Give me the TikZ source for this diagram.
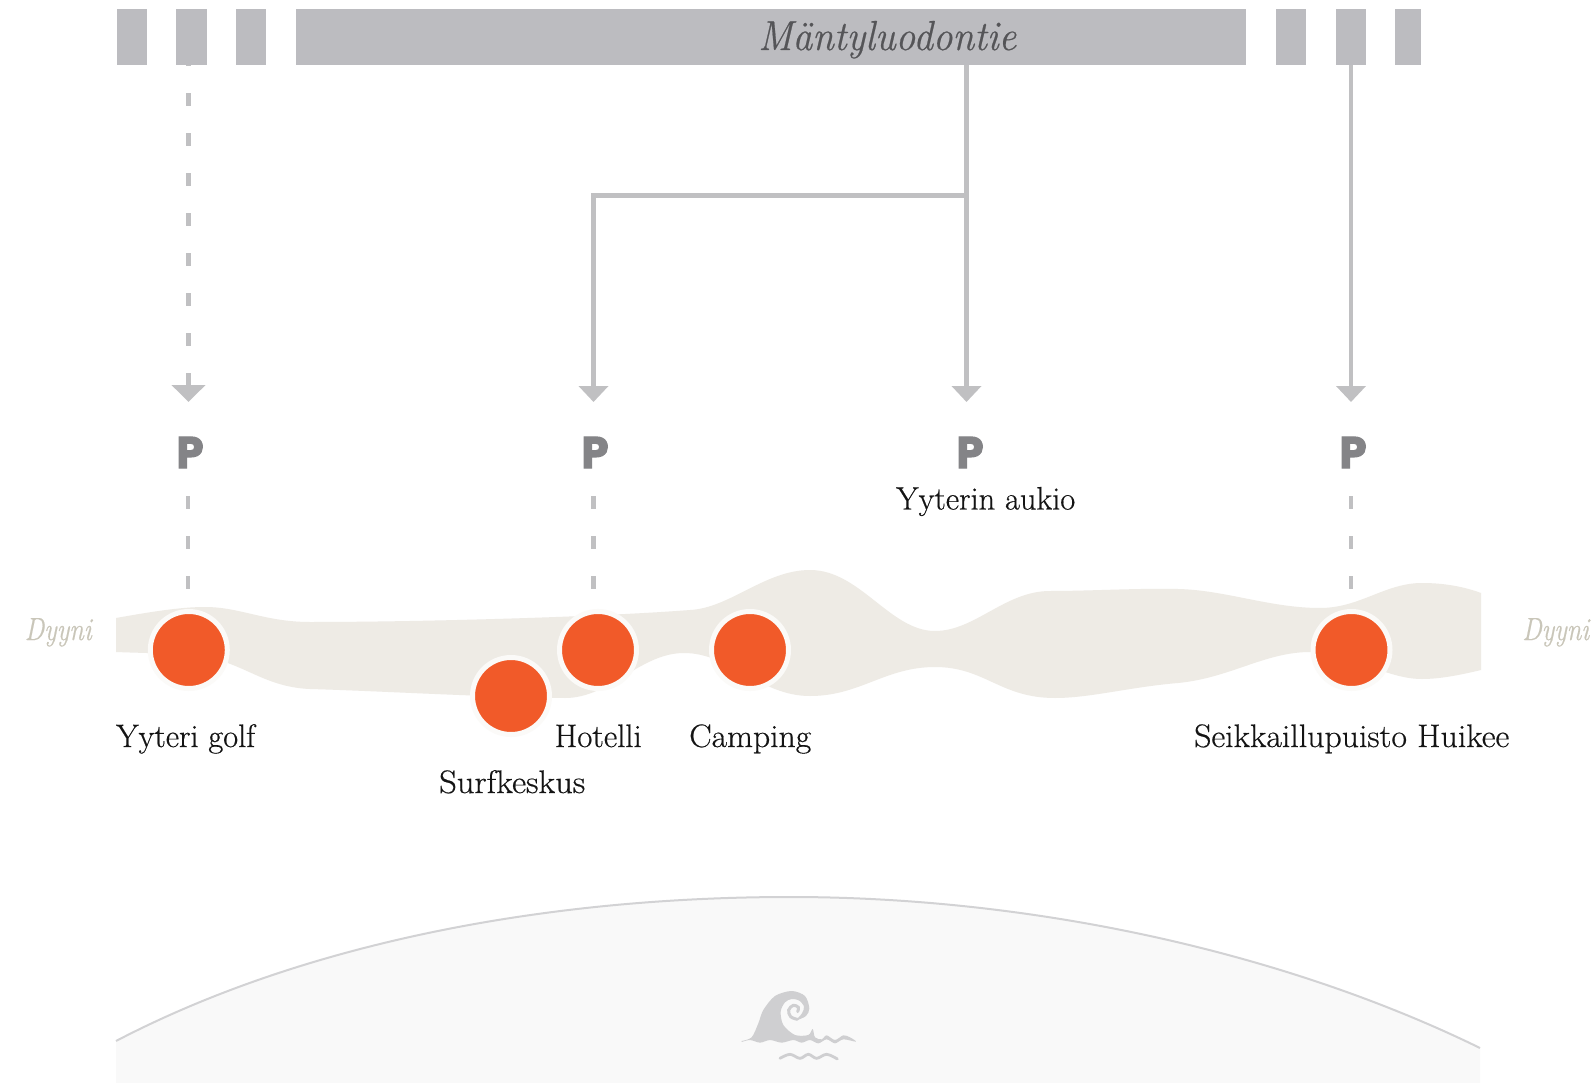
\documentclass[tikz,border=0pt]{standalone}
\usepackage{graphicx}
\usepackage{fontspec}
\usetikzlibrary{arrows.meta}
\newfontfamily\pfont{Poppins}[BoldFeatures={FakeBold=3}]
\newfontfamily\labfont{Latin Modern Roman}[FakeBold=0.5]
\newfontfamily\labitfont{Latin Modern Roman}[ItalicFeatures={FakeBold=0.5}]
\definecolor{barc}{HTML}{BCBCC0}
\definecolor{linec}{HTML}{C0C0C2}
\definecolor{dunec}{HTML}{EEEBE5}
\definecolor{dotc}{HTML}{F15A29}
\definecolor{haloc}{HTML}{FBFAF8}
\definecolor{dyynic}{HTML}{C9C6B9}
\definecolor{pc}{HTML}{848487}
\definecolor{seac}{HTML}{F9F9F9}
\definecolor{arcc}{HTML}{D2D2D4}
\definecolor{wavec}{HTML}{CFCFD1}
\definecolor{titlec}{HTML}{555558}
\newcommand{\fitw}[2]{\resizebox{#1pt}{\height}{#2}}
\tikzset{
  barbox/.style={fill=barc,draw=none,inner sep=0pt,minimum height=56pt,anchor=north west},
  conn/.style={draw=linec,line width=4.6pt},
  dashconn/.style={conn,dash pattern=on 13pt off 27pt},
  headed/.style={-{Triangle[width=29pt,length=16pt]}},
  headedwide/.style={-{Triangle[width=33pt,length=17pt]}},
  pmark/.style={inner sep=0pt,text=pc,minimum height=31pt,minimum width=26pt},
  dotmark/.style={circle,fill=dotc,draw=haloc,line width=5pt,minimum size=77pt,inner sep=0pt},
  lab/.style={inner sep=0pt,anchor=base west,text=black!92,font=\fontsize{32.5}{33}\labfont},
  dyy/.style={inner sep=0pt,anchor=base west,text=dyynic,font=\fontsize{32}{32}\labitfont\itshape},
}
\begin{document}
\begin{tikzpicture}[x=1pt,y=-1pt]
\useasboundingbox (0,0) rectangle (1596,1083);
\fill[white] (0,0) rectangle (1596,1083);
% sea
\fill[seac] (116,1041) .. controls (300,945) and (540,897) .. (790,897)
  .. controls (1040,897) and (1290,955) .. (1480,1048) -- (1480,1083) -- (116,1083) -- cycle;
\draw[arcc,line width=2pt] (116,1041) .. controls (300,945) and (540,897) .. (790,897)
  .. controls (1040,897) and (1290,955) .. (1480,1048);
% wave icon
\begin{scope}[shift={(680,960)},x=0.3333pt,y=-0.3333pt]
\fill[wavec] plot[smooth,tension=0.5] coordinates {(185,243)(215,232)(235,190)(250,150)(285,108)(335,93)(375,108)(388,145)(378,168)(350,180)(366,160)(372,140)(358,122)(335,117)(315,127)(302,155)(310,195)(345,225)(385,225)(398,207)(405,232)(425,238)(440,226)(465,240)(490,226)(510,232)(528,245)(490,238)(465,250)(440,238)(415,250)(390,240)(365,248)(340,240)(305,248)(270,240)(240,248)(210,240)(185,246)} -- cycle;
\draw[wavec,line width=3pt,line cap=round] plot[smooth,tension=0.6] coordinates {(352,178)(332,170)(326,150)(340,136)(355,142)(353,155)};
\draw[wavec,line width=2.8pt,line cap=round] plot[smooth,tension=0.6] coordinates {(300,295)(330,283)(360,295)(385,283)(410,295)(440,283)(472,297)};
\end{scope}
% dune
\fill[dunec] (116,618) .. controls (150,612) and (180,607) .. (205,607)
  .. controls (240,607) and (265,622) .. (310,622)
  .. controls (420,622) and (600,617) .. (690,610)
  .. controls (730,608) and (765,570) .. (810,570)
  .. controls (860,570) and (890,631) .. (935,631)
  .. controls (975,631) and (1005,591) .. (1050,591)
  .. controls (1090,591) and (1140,588) .. (1178,589)
  .. controls (1225,590) and (1270,608) .. (1320,608)
  .. controls (1360,608) and (1385,583) .. (1422,583)
  .. controls (1445,583) and (1465,587) .. (1481,593)
  -- (1481,670)
  .. controls (1460,675) and (1440,679) .. (1422,679)
  .. controls (1385,679) and (1350,652) .. (1310,652)
  .. controls (1265,652) and (1230,678) .. (1178,683)
  .. controls (1130,687) and (1090,698) .. (1055,698)
  .. controls (1000,698) and (985,667) .. (935,667)
  .. controls (885,667) and (860,696) .. (810,696)
  .. controls (760,696) and (730,653) .. (684,653)
  .. controls (640,653) and (610,698) .. (565,698)
  .. controls (480,697) and (380,691) .. (310,689)
  .. controls (260,687) and (240,658) .. (190,655)
  .. controls (160,653) and (140,653) .. (116,652) -- cycle;
% road bars
\node[barbox,minimum width=30pt] (b1) at (116.5,9) {};
\node[barbox,minimum width=31pt] (b2) at (176,9) {};
\node[barbox,minimum width=30pt] (b3) at (236,9) {};
\node[barbox,minimum width=950pt] (road) at (296,9) {};
\node[barbox,minimum width=30pt] (b4) at (1276,9) {};
\node[barbox,minimum width=30pt] (b5) at (1336,9) {};
\node[barbox,minimum width=26pt] (b6) at (1395,9) {};
\node[inner sep=0pt,anchor=base west,text=titlec,font=\fontsize{42}{42}\labitfont\itshape] (title) at (758,50) {\fitw{258}{Mäntyluodontie}};
% P marks
\node[pmark] (p1) at (190,452.5) {\resizebox{27pt}{31pt}{\pfont\bfseries P}};
\node[pmark] (p2) at (595,452.5) {\resizebox{27pt}{31pt}{\pfont\bfseries P}};
\node[pmark] (p3) at (970,452.5) {\resizebox{27pt}{31pt}{\pfont\bfseries P}};
\node[pmark] (p4) at (1353,452.5) {\resizebox{27pt}{31pt}{\pfont\bfseries P}};
% dots
\node[dotmark] (d1) at (188.8,650) {};
\node[dotmark] (d2) at (598,650) {};
\node[dotmark] (d3) at (511,696) {};
\node[dotmark] (d4) at (750,650) {};
\node[dotmark] (d5) at (1351.5,650) {};
% connectors
\coordinate (t1) at (188.5,402);
\coordinate (t2) at (593.5,402);
\coordinate (t3) at (966.5,402);
\coordinate (t4) at (1351,402);
\coordinate (j) at (966.5,195.5);
\draw[conn,dash pattern=on 13pt off 27pt,dash phase=12pt,headedwide] (t1 |- b2.south) -- (t1);
\draw[conn,headed] (t3 |- road.south) -- (t3);
\draw[conn,headed] (j) -| (t2);
\draw[conn,headed] (t4 |- b5.south) -- (t4);
\coordinate (u1) at (188,496);
\coordinate (u2) at (593.5,496);
\coordinate (u4) at (1351,496);
\draw[dashconn] (u1) -- (u1 |- 0,589);
\draw[dashconn] (u2) -- (u2 |- 0,589);
\draw[dashconn] (u4) -- (u4 |- 0,589);
% labels
\node[lab] (l1) at (116,747) {\fitw{139}{Yyteri golf}};
\node[lab] (l2) at (554.5,747) {\fitw{87}{Hotelli}};
\node[lab] (l3) at (439,793) {\fitw{146}{Surfkeskus}};
\node[lab] (l4) at (689,747) {\fitw{122}{Camping}};
\node[lab] (l5) at (1194,747) {\fitw{315}{Seikkaillupuisto Huikee}};
\node[lab] (l6) at (896,509.5) {\fitw{179}{Yyterin aukio}};
\node[dyy] (dl) at (24.5,640) {\fitw{67}{Dyyni}};
\node[dyy] (dr) at (1522,640) {\fitw{67}{Dyyni}};
\end{tikzpicture}
\end{document}
